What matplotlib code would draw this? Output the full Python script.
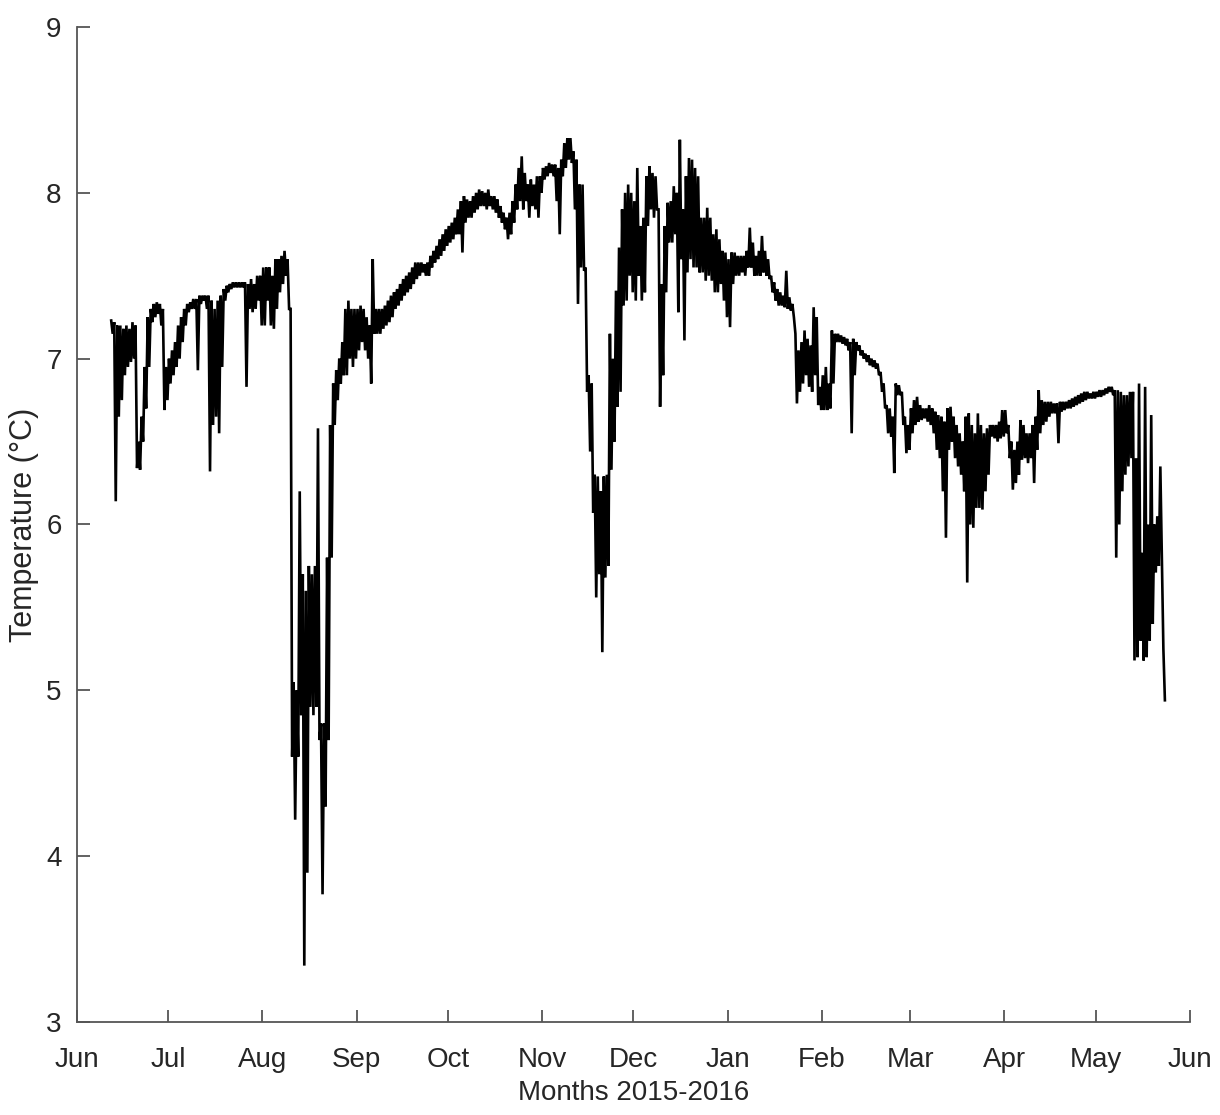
import numpy as np
import pandas as pd
import matplotlib
matplotlib.use("Agg")
import matplotlib.pyplot as plt
import matplotlib.dates as mdates

# Logger record: daily minimum and maximum water temperature (°C)
first_day = "2015-06-12"

daily_min = [
    # Jun
    7.15, 6.14, 6.65, 6.75, 6.90, 6.95, 6.98, 7.00, 6.34, 6.33,
    6.50, 6.70, 6.95, 7.22, 7.25, 7.27, 7.20, 6.69, 6.75,
    # Jul
    6.85, 6.90, 6.95, 7.00, 7.10, 7.20, 7.28, 7.30, 7.30, 6.93,
    7.33, 7.35, 7.30, 6.32, 6.60, 6.65, 6.55, 6.95, 7.35, 7.40,
    7.42, 7.43, 7.43, 7.43, 7.43, 6.83, 7.30, 7.28, 7.30, 7.35, 7.20,
    # Aug
    7.20, 7.35, 7.20, 7.18, 7.30, 7.40, 7.45, 7.50, 7.30, 4.60,
    4.22, 4.60, 4.85, 3.34, 3.90, 4.90, 4.85, 4.90, 4.70, 3.77,
    4.30, 4.70, 5.80, 6.60, 6.75, 6.85, 6.90, 6.90, 7.00, 6.95, 7.00,
    # Sep
    7.05, 7.10, 7.05, 7.00, 6.85, 7.15, 7.15, 7.15, 7.18, 7.20,
    7.22, 7.25, 7.30, 7.32, 7.35, 7.38, 7.40, 7.42, 7.45, 7.48,
    7.50, 7.52, 7.50, 7.50, 7.55, 7.58, 7.60, 7.62, 7.65, 7.68,
    # Oct
    7.70, 7.72, 7.75, 7.75, 7.64, 7.82, 7.85, 7.85, 7.88, 7.90,
    7.92, 7.92, 7.90, 7.92, 7.90, 7.88, 7.85, 7.82, 7.78, 7.72,
    7.75, 7.82, 7.90, 7.95, 7.90, 7.95, 7.85, 7.92, 7.90, 7.85, 8.00,
    # Nov
    8.08, 8.10, 8.12, 8.10, 7.95, 7.75, 8.10, 8.15, 8.20, 8.18,
    7.90, 7.33, 7.55, 7.53, 6.80, 6.44, 6.07, 5.56, 5.70, 5.23,
    5.68, 5.75, 6.33, 6.50, 6.71, 6.80, 7.32, 7.35, 7.50, 7.40,
    # Dec
    7.35, 7.50, 7.35, 7.40, 7.80, 7.90, 7.85, 7.90, 6.71, 6.90,
    7.40, 7.70, 7.70, 7.75, 7.28, 7.60, 7.11, 7.52, 7.60, 7.55,
    7.55, 7.52, 7.52, 7.47, 7.50, 7.47, 7.40, 7.40, 7.45, 7.35, 7.25,
    # Jan
    7.19, 7.45, 7.50, 7.50, 7.52, 7.50, 7.55, 7.55, 7.50, 7.50,
    7.50, 7.52, 7.50, 7.48, 7.40, 7.35, 7.32, 7.32, 7.31, 7.30,
    7.29, 7.25, 6.73, 6.80, 6.85, 6.90, 6.83, 6.80, 6.90, 6.72, 6.69,
    # Feb
    6.69, 6.69, 6.70, 6.85, 7.10, 7.10, 7.09, 7.08, 7.05, 6.55,
    6.90, 7.05, 7.02, 7.00, 6.98, 6.96, 6.95, 6.94, 6.90, 6.80,
    6.70, 6.55, 6.53, 6.31, 6.78, 6.78, 6.60, 6.43, 6.45,
    # Mar
    6.55, 6.60, 6.62, 6.63, 6.64, 6.62, 6.60, 6.55, 6.45, 6.40,
    6.20, 5.92, 6.45, 6.50, 6.40, 6.35, 6.30, 6.20, 5.65, 6.00,
    5.98, 6.10, 6.10, 6.09, 6.20, 6.30, 6.53, 6.52, 6.50, 6.52, 6.53,
    # Apr
    6.55, 6.40, 6.21, 6.25, 6.30, 6.39, 6.40, 6.37, 6.40, 6.25,
    6.45, 6.55, 6.60, 6.62, 6.65, 6.67, 6.67, 6.49, 6.68, 6.69,
    6.70, 6.70, 6.71, 6.72, 6.73, 6.74, 6.75, 6.76, 6.76, 6.76,
    # May
    6.77, 6.77, 6.78, 6.79, 6.80, 6.78, 5.80, 6.00, 6.20, 6.30,
    6.35, 6.40, 5.18, 5.20, 5.30, 5.18, 5.20, 5.30, 5.40, 5.71,
    5.75, 5.80, 4.94,
]

daily_max = [
    # Jun
    7.23, 7.22, 7.20, 7.20, 7.18, 7.20, 7.18, 7.22, 7.20, 6.50,
    6.65, 6.95, 7.25, 7.30, 7.33, 7.34, 7.33, 7.30, 6.95,
    # Jul
    7.00, 7.05, 7.10, 7.20, 7.25, 7.30, 7.33, 7.34, 7.36, 7.36,
    7.38, 7.38, 7.38, 7.38, 7.35, 7.30, 7.35, 7.38, 7.42, 7.44,
    7.45, 7.46, 7.46, 7.46, 7.46, 7.46, 7.45, 7.48, 7.45, 7.50, 7.50,
    # Aug
    7.55, 7.55, 7.55, 7.50, 7.60, 7.60, 7.62, 7.65, 7.60, 7.30,
    5.05, 5.00, 6.20, 5.70, 5.60, 5.75, 5.70, 5.75, 6.58, 4.80,
    4.80, 5.80, 6.60, 6.85, 6.93, 7.00, 7.10, 7.30, 7.35, 7.30, 7.30,
    # Sep
    7.30, 7.32, 7.30, 7.25, 7.20, 7.60, 7.30, 7.30, 7.30, 7.32,
    7.35, 7.38, 7.40, 7.42, 7.45, 7.48, 7.50, 7.52, 7.55, 7.58,
    7.58, 7.58, 7.57, 7.58, 7.62, 7.65, 7.68, 7.72, 7.75, 7.78,
    # Oct
    7.80, 7.82, 7.85, 7.90, 7.95, 7.98, 7.96, 7.95, 7.98, 8.00,
    8.02, 8.01, 8.00, 8.02, 7.98, 7.98, 7.96, 7.92, 7.88, 7.85,
    7.88, 7.95, 8.05, 8.15, 8.22, 8.12, 8.05, 8.08, 8.05, 8.10, 8.10,
    # Nov
    8.15, 8.16, 8.18, 8.17, 8.17, 8.15, 8.20, 8.30, 8.33, 8.33,
    8.25, 8.20, 8.05, 8.05, 7.55, 6.90, 6.85, 6.30, 6.29, 6.20,
    6.29, 6.30, 7.15, 7.00, 7.41, 7.67, 7.90, 8.00, 8.05, 8.00,
    # Dec
    7.95, 8.15, 7.80, 7.85, 8.10, 8.16, 8.12, 8.10, 7.90, 7.45,
    7.80, 7.94, 7.95, 8.04, 8.00, 8.32, 7.90, 8.10, 8.21, 8.20,
    8.15, 8.10, 7.85, 7.85, 7.91, 7.85, 7.75, 7.78, 7.72, 7.65, 7.64,
    # Jan
    7.60, 7.64, 7.64, 7.62, 7.62, 7.62, 7.65, 7.79, 7.70, 7.62,
    7.65, 7.74, 7.65, 7.60, 7.50, 7.46, 7.42, 7.40, 7.38, 7.53,
    7.37, 7.33, 7.15, 7.05, 7.10, 7.17, 7.12, 7.08, 7.31, 7.25, 6.83,
    # Feb
    6.90, 6.95, 6.85, 7.17, 7.15, 7.15, 7.14, 7.13, 7.12, 7.10,
    7.12, 7.10, 7.08, 7.05, 7.03, 7.02, 7.00, 6.99, 6.97, 6.92,
    6.85, 6.72, 6.70, 6.65, 6.85, 6.84, 6.80, 6.65, 6.60,
    # Mar
    6.70, 6.75, 6.77, 6.72, 6.70, 6.70, 6.72, 6.70, 6.68, 6.66,
    6.65, 6.62, 6.70, 6.71, 6.65, 6.60, 6.55, 6.50, 6.65, 6.67,
    6.60, 6.55, 6.67, 6.60, 6.55, 6.58, 6.60, 6.60, 6.60, 6.62, 6.69,
    # Apr
    6.69, 6.60, 6.50, 6.45, 6.50, 6.63, 6.60, 6.55, 6.55, 6.60,
    6.65, 6.81, 6.75, 6.74, 6.74, 6.74, 6.73, 6.73, 6.74, 6.74,
    6.74, 6.75, 6.76, 6.77, 6.78, 6.79, 6.80, 6.80, 6.79, 6.80,
    # May
    6.80, 6.81, 6.81, 6.82, 6.83, 6.83, 6.81, 6.81, 6.80, 6.78,
    6.78, 6.80, 6.80, 6.40, 6.85, 5.83, 6.83, 6.00, 6.66, 6.00,
    6.05, 6.35, 5.25,
]

month_labels = ["Jun", "Jul", "Aug", "Sep", "Oct", "Nov", "Dec",
                "Jan", "Feb", "Mar", "Apr", "May", "Jun"]
y_ticks = [3, 4, 5, 6, 7, 8, 9]

axis_color = "#262626"
plt.rcParams["font.family"] = ["Liberation Sans", "DejaVu Sans"]

days = pd.date_range(first_day, periods=len(daily_min), freq="D")
day_num = mdates.date2num(days.to_pydatetime())
# each day is traced from its maximum down to its minimum
t = np.column_stack([day_num + 0.25, day_num + 0.75]).ravel()
temp = np.column_stack([daily_max, daily_min]).ravel()

fig = plt.figure(figsize=(12.2, 11.15), dpi=100)
ax = fig.add_axes([0.0631, 0.0834, 0.9123, 0.8924])
ax.plot(t, temp, color="black", linewidth=1.9, solid_joinstyle="miter")

month_starts = pd.date_range("2015-06-01", "2016-06-01", freq="MS")
ax.set_xticks(mdates.date2num(month_starts.to_pydatetime()))
ax.set_xticklabels(month_labels)
ax.set_xlim(mdates.date2num(month_starts[0].to_pydatetime()),
            mdates.date2num(month_starts[-1].to_pydatetime()))
ax.set_yticks(y_ticks)
ax.set_ylim(3, 9)

for side in ("top", "right"):
    ax.spines[side].set_visible(False)
for side in ("left", "bottom"):
    ax.spines[side].set_color("#555555")
    ax.spines[side].set_linewidth(1.3)

ax.tick_params(axis="both", direction="in", length=9, width=1.3,
               color="#555555", labelcolor=axis_color, labelsize=20)
ax.tick_params(axis="x", pad=18)
ax.tick_params(axis="y", pad=11)

ax.set_xlabel("Months 2015-2016", fontsize=20, color=axis_color, labelpad=5)
ax.set_ylabel("Temperature (°C)", fontsize=22, color=axis_color, labelpad=5)

fig.savefig("out.png", dpi=100, facecolor="white")
